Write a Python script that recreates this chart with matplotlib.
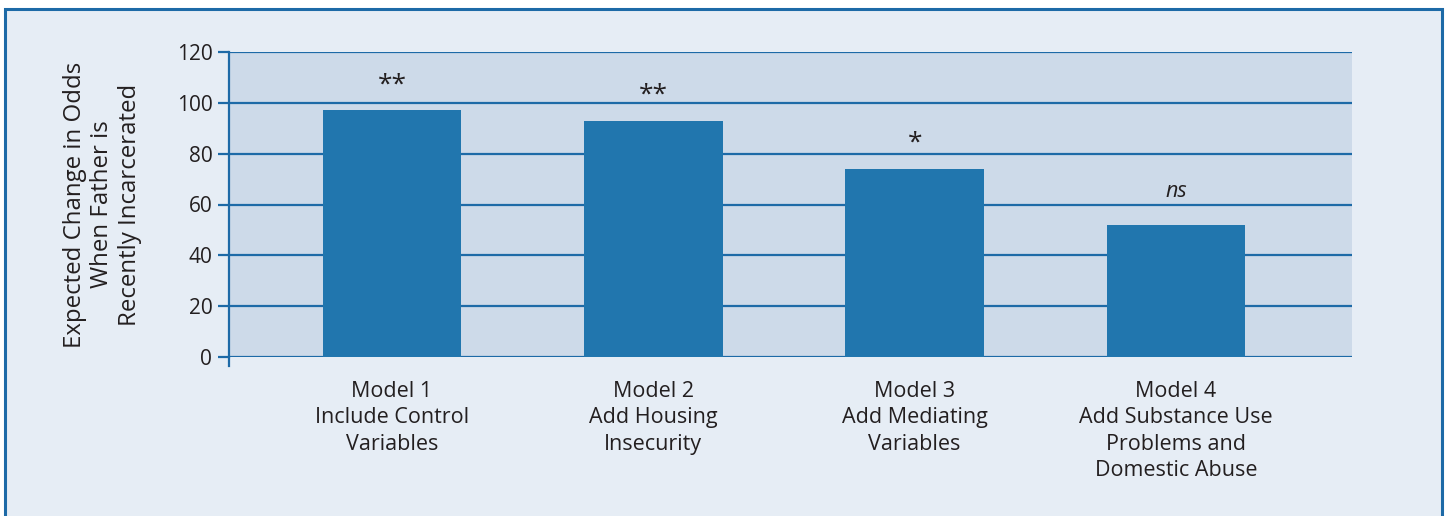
import matplotlib.pyplot as plt
from matplotlib.patches import Rectangle
import numpy as np

# data
models = ["Model 1\nInclude Control\nVariables",
          "Model 2\nAdd Housing\nInsecurity",
          "Model 3\nAdd Mediating\nVariables",
          "Model 4\nAdd Substance Use\nProblems and\nDomestic Abuse"]
odds_change = [97, 93, 74, 52]
signif = ["**", "**", "*", "ns"]
y_ticks = [0, 20, 40, 60, 80, 100, 120]

BLUE = "#2176AE"
LINE = "#1D6AA7"
BG = "#E6EDF5"
PLOT_BG = "#CDDAE9"
TEXT = "#231F20"

plt.rcParams['font.family'] = ['Open Sans', 'DejaVu Sans']

fig = plt.figure(figsize=(14.45, 5.16), dpi=100)
fig.patch.set_facecolor("white")

# outer panel with blue border
panel = Rectangle((5 / 1445, -0.05), 1437 / 1445, 1.05 - 9 / 516,
                  transform=fig.transFigure, facecolor=BG, edgecolor=LINE,
                  lw=2.2, zorder=-10)
fig.patches.append(panel)

ax = fig.add_axes([229 / 1445, 1 - 357 / 516, 1123 / 1445, 305 / 516])
ax.set_facecolor(PLOT_BG)

x = np.arange(len(models))
ax.bar(x, odds_change, width=0.53, color=BLUE, zorder=3)

for xi, v, s in zip(x, odds_change, signif):
    if s == "ns":
        ax.text(xi, v + 13, s, ha="center", va="center", fontsize=15.5,
                fontstyle="italic", color=TEXT, zorder=4)
    else:
        ax.text(xi, v + 10, s, ha="center", va="center", fontsize=19,
                color=TEXT, zorder=4)

ax.set_xlim(-0.624, 3.674)
ax.set_ylim(0, 120)
ax.set_yticks(y_ticks)
ax.yaxis.grid(True, color=LINE, lw=1.6, zorder=1)
ax.set_axisbelow(True)

for sp in ["top", "right", "bottom"]:
    ax.spines[sp].set_visible(False)
ax.spines["left"].set_color(LINE)
ax.spines["left"].set_linewidth(1.6)
# left axis line runs a bit below zero
ax.plot([0, 0], [0, -0.03], transform=ax.transAxes, color=LINE, lw=1.6,
        clip_on=False)

ax.tick_params(axis="y", length=8, width=1.6, color=LINE, pad=4,
               labelsize=15, labelcolor=TEXT)
ax.tick_params(axis="x", length=0, pad=17, labelsize=15.5, labelcolor=TEXT)
ax.set_xticks(x)
ax.set_xticklabels(models, linespacing=1.35)

ax.set_ylabel("Expected Change in Odds\nWhen Father is\nRecently Incarcerated",
              fontsize=17.3, color=TEXT, linespacing=1.2)
ax.yaxis.set_label_coords(-0.0775, 0.5)

fig.savefig("out.png", dpi=100, facecolor=fig.get_facecolor())
